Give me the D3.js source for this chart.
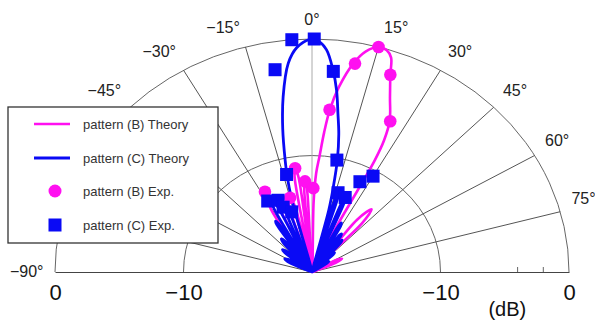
<!DOCTYPE html>
<html><head><meta charset="utf-8">
<script src="https://cdn.jsdelivr.net/npm/d3@7"></script>
<style>
body{margin:0;background:#fff}
svg{display:block;font-family:"Liberation Sans",Arial,sans-serif}
</style>
</head><body>
<svg id="chart" width="595" height="325"></svg>
<script>
// ---------- data ----------
const angleTicks = [-90, -75, -60, -45, -30, -15, 0, 15, 30, 45, 60, 75, 90];
const angleLabelTicks = [-90, -75, -60, -45, -30, -15, 0, 15, 30, 45, 60, 75];
const dbTicks = [0, -10];
const dbMinorTicks = [-2, -4];
const dbUnit = "(dB)";
const seriesNames = ["pattern (B) Theory", "pattern (C) Theory", "pattern (B) Exp.", "pattern (C) Exp."];

// [angle (deg), level (dB)]
const patternBTheory = [[-90,-20],[-66,-20],[-61,-18.6],[-56,-20],[-50,-17.6],[-45,-20],[-40,-16.3],[-35,-20],
 [-30.5,-13.6],[-28,-12.8],[-25.5,-13.6],[-22,-20],[-17.5,-14],[-15.5,-13.4],[-13.5,-14],[-11,-20],
 [-9.4,-11.7],[-8.4,-11.1],[-7.4,-11.7],[-6,-20],[-4.8,-12.7],[-4,-12.2],[-3.2,-12.7],[-1,-20],
 [1.2,-14],[2.2,-11.5],[3.4,-10],[4.5,-8],[5.7,-6],[7.5,-4],[10.2,-1.8],[12.5,-0.6],[15,0],[17,-0.1],
 [18.5,-0.6],[19.8,-2],[22,-3.8],[25,-5.7],[26.4,-7.4],[27,-9.2],[27,-11],[26.7,-13.2],[26,-16],[25.2,-20],
 [38,-14.3],[40.8,-12.9],[43,-14.3],[48,-20],[61,-18],[64,-17.4],[67,-18],[72,-20],[90,-20]];

const patternCTheory = [[-90,-20],[-70,-20],[-64.5,-17.9],[-62,-17.6],[-59.5,-17.9],[-56,-20],
 [-52,-17.3],[-50,-17],[-48,-17.3],[-45,-20],[-41.5,-16.6],[-40,-16.3],[-38.5,-16.6],[-36.5,-20],
 [-34,-15.1],[-33,-14.8],[-32,-15.1],[-30,-20],[-28.3,-13.6],[-27,-13.2],[-25.7,-13.6],[-23.5,-20],
 [-21.5,-14.5],[-20.3,-14.1],[-19,-14.5],[-16.5,-20],[-14.2,-13.5],[-13.2,-11.5],[-12.3,-10.2],
 [-10.5,-7.5],[-8.5,-4.8],[-5.9,-2],[-3.5,-0.7],[-0.5,-0.05],[1.5,-0.2],[3.4,-0.9],[5.4,-2.6],[7,-4.3],
 [8.4,-6.2],[10,-8],[11.6,-10.2],[12.8,-12.5],[13.8,-14.5],[15,-20],[16.1,-13.3],[16.8,-12.9],[17.5,-13.3],
 [19,-20],[21.3,-13.5],[22,-13.2],[22.8,-13.5],[24.5,-20],[27.5,-15.5],[28.5,-15.2],[29.5,-15.5],[31.5,-20],
 [34,-16.2],[35,-16],[36,-16.2],[37.5,-20],[39.5,-16.6],[40.5,-16.4],[41.5,-16.6],[43.5,-20],
 [46,-17.8],[47,-17.6],[48,-17.8],[51,-20],[54,-18.6],[55.5,-18.4],[57,-18.6],[60,-20],[90,-20]];

const patternBExp = [[15,0],[10.6,-1.8],[19.8,-2],[5.6,-6],[25.2,-5.7],[-8.4,-11],[-4,-12.2],[0.8,-12.8],[-15,-13.4],[-28,-12.2]];
const patternCExp = [[-4.5,0],[0.5,0],[-9.4,-2.4],[5.5,-2.7],[11.4,-10.2],[-13.3,-11.4],[-29.5,-13],[-23.2,-13.3],
 [-22,-14],[-17,-14.6],[16.6,-12.9],[22,-13.1],[25.7,-11.4],[30,-10.5]];

// ---------- layout ----------
const svg = d3.select("#chart");
const cx = 312, cy = 272, Rx = 257, Ry = 233;
const colB = "#ff10f0", colC = "#0a0af5";

const rS = d3.scaleLinear().domain([-20, 0]).range([0, 1]).clamp(true);
const aS = d3.scaleLinear().domain([-90, 90]).range([-Math.PI / 2, Math.PI / 2]);
const px = (a, d) => cx + Rx * rS(d) * Math.sin(aS(a));
const py = (a, d) => cy - Ry * rS(d) * Math.cos(aS(a));

// grid arcs
const grid = svg.append("g");
[0, -10].forEach(db => {
  const f = rS(db);
  grid.append("path")
    .attr("d", `M${cx - Rx * f},${cy} A${Rx * f},${Ry * f} 0 0 1 ${cx + Rx * f},${cy}`)
    .attr("fill", "none").attr("stroke", "#666").attr("stroke-width", 1);
});
// radial lines
grid.selectAll("line.rad").data(angleTicks.filter(a => Math.abs(a) < 90)).enter().append("line")
  .attr("x1", cx).attr("y1", cy)
  .attr("x2", a => px(a, 0)).attr("y2", a => py(a, 0))
  .attr("stroke", a => a === 0 ? "#aaa" : "#555").attr("stroke-width", 1);

// dB axes along baseline
const xL = d3.scaleLinear().domain([0, -20]).range([cx - Rx, cx]);
const xR = d3.scaleLinear().domain([-20, 0]).range([cx, cx + Rx]);
const fmt = d3.format("d");
[xL, xR].forEach(sc => {
  const g = svg.append("g").attr("transform", `translate(0,${cy})`)
    .call(d3.axisBottom(sc).tickValues(dbTicks).tickSize(0).tickSizeOuter(0).tickPadding(12).tickFormat(fmt));
  g.select(".domain").attr("stroke", "#444").attr("stroke-width", 1.2);
  g.selectAll("text").attr("font-size", 22).attr("fill", "#111").attr("font-family", "Liberation Sans, Arial, sans-serif");
});
svg.selectAll("line.minor").data(dbMinorTicks).enter().append("line")
  .attr("x1", d => xR(d)).attr("x2", d => xR(d)).attr("y1", cy).attr("y2", cy - 5)
  .attr("stroke", "#666").attr("stroke-width", 1);
svg.append("text").attr("x", xR(-4.8)).attr("y", 316).attr("text-anchor", "middle")
  .attr("font-size", 20).attr("fill", "#111").text(dbUnit);

// angle labels
svg.selectAll("text.ang").data(angleLabelTicks).enter().append("text")
  .attr("font-size", 16).attr("fill", "#222")
  .attr("text-anchor", a => a === 0 ? "middle" : (a > 0 ? "start" : "end"))
  .attr("x", a => {
    const s = Math.sin(aS(a));
    return px(a, 0) + Math.sign(a) * (3.5 + 8 * Math.abs(s));
  })
  .attr("y", a => Math.abs(a) === 90 ? py(a, 0) + 5 : py(a, 0) - 5 - 9 * Math.cos(aS(a)))
  .text(a => (a < 0 ? "\u2212" + (-a) : a) + "\u00B0");

// theory curves
const line = d3.line().x(d => px(d[0], d[1])).y(d => py(d[0], d[1])).curve(d3.curveCatmullRom.alpha(0.5));
svg.append("path").datum(patternBTheory).attr("d", line)
  .attr("fill", "none").attr("stroke", colB).attr("stroke-width", 2.6).attr("stroke-linejoin", "round");
svg.append("path").datum(patternCTheory).attr("d", line)
  .attr("fill", "none").attr("stroke", colC).attr("stroke-width", 2.8).attr("stroke-linejoin", "round");

// experimental points
svg.selectAll("circle.bexp").data(patternBExp).enter().append("circle")
  .attr("cx", d => px(d[0], d[1])).attr("cy", d => py(d[0], d[1])).attr("r", 6.3).attr("fill", colB);
const sq = 13;
svg.selectAll("rect.cexp").data(patternCExp).enter().append("rect")
  .attr("x", d => px(d[0], d[1]) - sq / 2).attr("y", d => py(d[0], d[1]) - sq / 2)
  .attr("width", sq).attr("height", sq).attr("fill", colC);

// legend
const lg = svg.append("g");
lg.append("rect").attr("x", 8).attr("y", 107).attr("width", 210).attr("height", 136)
  .attr("fill", "#fff").attr("stroke", "#333").attr("stroke-width", 1.3);
const rows = [124, 158, 191, 225];
lg.append("line").attr("x1", 34).attr("x2", 70).attr("y1", rows[0]).attr("y2", rows[0]).attr("stroke", colB).attr("stroke-width", 2.6);
lg.append("line").attr("x1", 34).attr("x2", 70).attr("y1", rows[1]).attr("y2", rows[1]).attr("stroke", colC).attr("stroke-width", 2.8);
lg.append("circle").attr("cx", 55).attr("cy", rows[2]).attr("r", 6.5).attr("fill", colB);
lg.append("rect").attr("x", 55 - sq / 2).attr("y", rows[3] - sq / 2).attr("width", sq).attr("height", sq).attr("fill", colC);
lg.selectAll("text").data(seriesNames).enter().append("text")
  .attr("x", 83).attr("y", (d, i) => rows[i] + 5)
  .attr("font-size", 13).attr("fill", "#333").text(d => d);
</script>
</body></html>
